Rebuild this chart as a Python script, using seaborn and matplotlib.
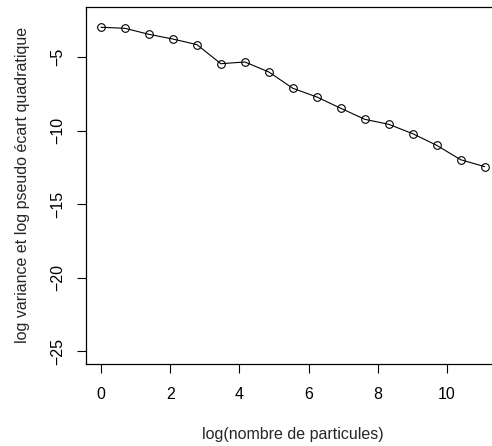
import matplotlib
matplotlib.use('Agg')
import matplotlib.pyplot as plt
import seaborn as sns
import numpy as np
import pandas as pd

# log(number of particles) : particles = 2^k, k = 0..16
log_particules = [0.000, 0.693, 1.386, 2.079, 2.773, 3.466, 4.159, 4.852, 5.545,
                  6.238, 6.931, 7.625, 8.318, 9.011, 9.704, 10.397, 11.090]
# log variance / log pseudo ecart quadratique
log_variance = [-2.96, -3.03, -3.44, -3.76, -4.14, -5.44, -5.32, -6.00, -7.11,
                -7.70, -8.47, -9.22, -9.56, -10.20, -10.99, -11.97, -12.44]

df = pd.DataFrame({'x': log_particules, 'y': log_variance})

sns.set_style('white')
plt.rcParams['font.family'] = ['Liberation Sans', 'DejaVu Sans']

fig = plt.figure(figsize=(4.92, 4.46), dpi=100)
# R-style plot region; the right side runs past the image edge like the original
ax = fig.add_axes([0.174, 0.184, 0.842, 0.801])

sns.lineplot(data=df, x='x', y='y', ax=ax, color='black', lw=0.8,
             marker='o', markersize=5.5, markerfacecolor='none',
             markeredgecolor='black', markeredgewidth=0.8)

ax.set_xlim(-0.444, 11.53)
ax.set_ylim(-25.86, -1.56)
ax.set_xticks([0, 2, 4, 6, 8, 10])
ax.set_yticks([-25, -20, -15, -10, -5])

# L-shaped frame like R base graphics (top line kept, right side is cut off)
for side in ['left', 'bottom', 'top']:
    ax.spines[side].set_visible(True)
    ax.spines[side].set_color('black')
    ax.spines[side].set_linewidth(0.9)
ax.spines['right'].set_visible(False)

ax.tick_params(axis='both', direction='out', length=6.5, width=0.8,
               colors='black', labelsize=11.5)
ax.tick_params(axis='x', bottom=True, pad=10)
ax.tick_params(axis='y', left=True, pad=8)
for lab in ax.get_yticklabels():
    lab.set_rotation(90)
    lab.set_va('center')

ax.set_xlabel('log(nombre de particules)', fontsize=11.5, labelpad=18)
ax.set_ylabel('log variance et log pseudo écart quadratique', fontsize=11.5, labelpad=15)

fig.savefig('out.png', dpi=100)
